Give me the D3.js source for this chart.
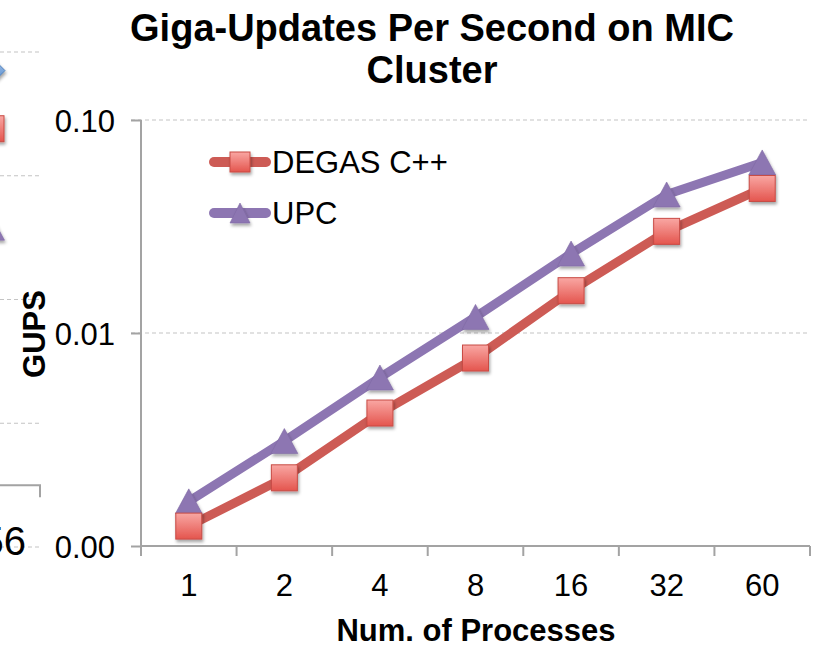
<!DOCTYPE html>
<html>
<head>
<meta charset="utf-8">
<script src="https://cdn.jsdelivr.net/npm/d3@7/dist/d3.min.js"></script>
<style>
  html, body { margin: 0; padding: 0; background: #fff; }
  svg { display: block; font-family: "Liberation Sans", Arial, Helvetica, sans-serif; }
</style>
</head>
<body>
<svg id="chart" width="821" height="647"></svg>
<script>
// Process counts on the category axis
const categories = ["1", "2", "4", "8", "16", "32", "60"];
// Giga-updates per second for each implementation
const degasCpp = [0.00124, 0.00209, 0.00421, 0.00763, 0.0158, 0.0300, 0.0477];
const upc      = [0.00162, 0.00311, 0.00618, 0.0119, 0.0236, 0.0447, 0.0632];
// Log-axis ticks and their printed labels
const yTickValues = [0.001, 0.01, 0.1];
const yTickLabels = ["0.00", "0.01", "0.10"];
const seriesNames = ["DEGAS C++", "UPC"];

// Edge of the neighbouring panel that shares the slide
const neighbourGridLevels = [0, 1, 2, 3, 4];
const neighbourAxisLevel = 0.5;
const neighbourTickLabel = "56";
const neighbourMarkers = [
  { shape: "diamond", level: 3.85 },
  { shape: "square", level: 3.38 },
  { shape: "triangle", level: 2.58 }
];

const svg = d3.select("#chart");

const axisColor = "#a3a3a3";
const gridColor = "#c4c4c4";
const redLine = "#cd5b55";
const purple = "#8d76b2";
const FONT = "Liberation Sans, Arial, sans-serif";

// ---- defs: marker gradients and soft drop shadow
const defs = svg.append("defs");
const gRed = defs.append("linearGradient").attr("id", "sqFill")
  .attr("x1", 0).attr("y1", 0).attr("x2", 0).attr("y2", 1);
gRed.append("stop").attr("offset", "0%").attr("stop-color", "#f9a7a3");
gRed.append("stop").attr("offset", "100%").attr("stop-color", "#e4554e");
const gBlue = defs.append("linearGradient").attr("id", "dmFill")
  .attr("x1", 0).attr("y1", 0).attr("x2", 0).attr("y2", 1);
gBlue.append("stop").attr("offset", "0%").attr("stop-color", "#a9c8ee");
gBlue.append("stop").attr("offset", "100%").attr("stop-color", "#4f86c9");
const shadow = defs.append("filter").attr("id", "shadow")
  .attr("x", "-40%").attr("y", "-40%").attr("width", "180%").attr("height", "180%");
shadow.append("feDropShadow").attr("dx", 1.2).attr("dy", 2.5)
  .attr("stdDeviation", 1.6).attr("flood-color", "#000").attr("flood-opacity", 0.35);

// ---- scales
const x = d3.scaleBand().domain(categories).range([141, 810]);
const y = d3.scaleLog().domain([0.001, 0.1]).range([546, 120]);
const cx = c => x(c) + x.bandwidth() / 2;

// ---- marker painters
const SQ = 26, TW = 27, TH = 25;
function square(g, px, py, s) {
  g.append("rect").attr("x", px - s / 2).attr("y", py - s / 2)
    .attr("width", s).attr("height", s)
    .attr("fill", "url(#sqFill)").attr("stroke", "#c84b45").attr("stroke-width", 1)
    .attr("filter", "url(#shadow)");
}
function triangle(g, px, py, w, h) {
  g.append("path")
    .attr("d", `M${px},${py - h / 2}L${px + w / 2},${py + h / 2}L${px - w / 2},${py + h / 2}Z`)
    .attr("fill", purple).attr("stroke", "#7f69a5").attr("stroke-width", 0.6)
    .attr("filter", "url(#shadow)");
}
function diamond(g, px, py, s) {
  g.append("path")
    .attr("d", `M${px},${py - s / 2}L${px + s / 2},${py}L${px},${py + s / 2}L${px - s / 2},${py}Z`)
    .attr("fill", "url(#dmFill)").attr("stroke", "#3f73b4").attr("stroke-width", 0.8)
    .attr("filter", "url(#shadow)");
}

// ---- neighbouring panel sliver on the left edge
const ny = d3.scaleLinear().domain([0, 4]).range([547, 52]);
const nb = svg.append("g");
nb.selectAll("line.ngrid").data(neighbourGridLevels).join("line")
  .attr("x1", 0).attr("x2", 39).attr("y1", d => ny(d)).attr("y2", d => ny(d))
  .attr("stroke", gridColor).attr("stroke-width", 1.2).attr("stroke-dasharray", "4,3");
nb.append("path")
  .attr("d", `M0,${ny(neighbourAxisLevel)}H40V${ny(neighbourAxisLevel) + 12}`)
  .attr("fill", "none").attr("stroke", axisColor).attr("stroke-width", 2);
nb.append("text").attr("x", 26).attr("y", 555).attr("text-anchor", "end")
  .attr("font-size", 40).attr("fill", "#000").text(neighbourTickLabel);
neighbourMarkers.forEach(m => {
  const py = ny(m.level);
  if (m.shape === "diamond") diamond(nb, -8, py, 26);
  else if (m.shape === "square") square(nb, -9, py, SQ);
  else triangle(nb, -9, py, TW, TH);
});

// ---- gridlines (dashed) above the baseline
const grid = svg.append("g");
grid.selectAll("line").data(yTickValues.slice(1)).join("line")
  .attr("x1", 131).attr("x2", 810)
  .attr("y1", d => y(d)).attr("y2", d => y(d))
  .attr("stroke", gridColor).attr("stroke-width", 1.2).attr("stroke-dasharray", "4,3");

// ---- y axis
const yAxis = svg.append("g").attr("transform", "translate(141,0)")
  .call(d3.axisLeft(y).tickValues(yTickValues)
    .tickFormat((d, i) => yTickLabels[i]).tickSize(10).tickPadding(16));
yAxis.select(".domain").attr("stroke", axisColor).attr("stroke-width", 2)
  .attr("d", `M0,${y.range()[1]}V${y.range()[0]}`);
yAxis.selectAll(".tick line").attr("stroke", axisColor).attr("stroke-width", 2);
yAxis.selectAll(".tick text").attr("font-size", 31).attr("fill", "#000")
  .attr("font-family", FONT).attr("dy", "0.36em");

// ---- x axis: labels centred in bands, ticks on band edges
const xAxis = svg.append("g").attr("transform", `translate(0,${y(0.001)})`)
  .call(d3.axisBottom(x).tickSize(0).tickPadding(28));
xAxis.select(".domain").attr("stroke", axisColor).attr("stroke-width", 2)
  .attr("d", `M${x.range()[0]},0H${x.range()[1]}`);
xAxis.selectAll(".tick text").attr("font-size", 31).attr("fill", "#000")
  .attr("font-family", FONT);
const edges = categories.map(c => x(c)).concat([x.range()[1]]);
xAxis.selectAll("line.edge").data(edges).join("line").attr("class", "edge")
  .attr("x1", d => d).attr("x2", d => d).attr("y1", 0).attr("y2", 10)
  .attr("stroke", axisColor).attr("stroke-width", 2);

// ---- series lines
const line = d3.line().x((d, i) => cx(categories[i])).y(d => y(d));
const plot = svg.append("g");
plot.append("path").datum(degasCpp).attr("d", line)
  .attr("fill", "none").attr("stroke", redLine).attr("stroke-width", 9)
  .attr("stroke-linejoin", "round").attr("stroke-linecap", "round");
plot.append("path").datum(upc).attr("d", line)
  .attr("fill", "none").attr("stroke", purple).attr("stroke-width", 9)
  .attr("stroke-linejoin", "round").attr("stroke-linecap", "round");

// markers: triangles first, squares drawn on top
upc.forEach((v, i) => triangle(plot, cx(categories[i]), y(v), TW, TH));
degasCpp.forEach((v, i) => square(plot, cx(categories[i]), y(v), SQ));

// ---- legend
const leg = svg.append("g");
const legendRows = [
  { name: seriesNames[0], color: redLine, yy: 162, mark: "square" },
  { name: seriesNames[1], color: purple, yy: 213, mark: "triangle" }
];
legendRows.forEach(r => {
  leg.append("line").attr("x1", 214).attr("x2", 266).attr("y1", r.yy).attr("y2", r.yy)
    .attr("stroke", r.color).attr("stroke-width", 10).attr("stroke-linecap", "round");
  if (r.mark === "square") square(leg, 240, r.yy, 20);
  else triangle(leg, 240, r.yy, 20, 20);
  leg.append("text").attr("x", 272).attr("y", r.yy + 11).attr("font-size", 31)
    .attr("fill", "#000").text(r.name);
});

// ---- titles
svg.append("text").attr("x", 432).attr("y", 41).attr("text-anchor", "middle")
  .attr("font-size", 38).attr("font-weight", "bold").attr("fill", "#000")
  .text("Giga-Updates Per Second on MIC");
svg.append("text").attr("x", 432).attr("y", 83).attr("text-anchor", "middle")
  .attr("font-size", 38).attr("font-weight", "bold").attr("fill", "#000")
  .text("Cluster");
svg.append("text").attr("x", 476).attr("y", 641).attr("text-anchor", "middle")
  .attr("font-size", 31).attr("font-weight", "bold").attr("fill", "#000")
  .text("Num. of Processes");
svg.append("text").attr("transform", "translate(45,334) rotate(-90)")
  .attr("text-anchor", "middle")
  .attr("font-size", 31).attr("font-weight", "bold").attr("fill", "#000")
  .text("GUPS");
</script>
</body>
</html>
